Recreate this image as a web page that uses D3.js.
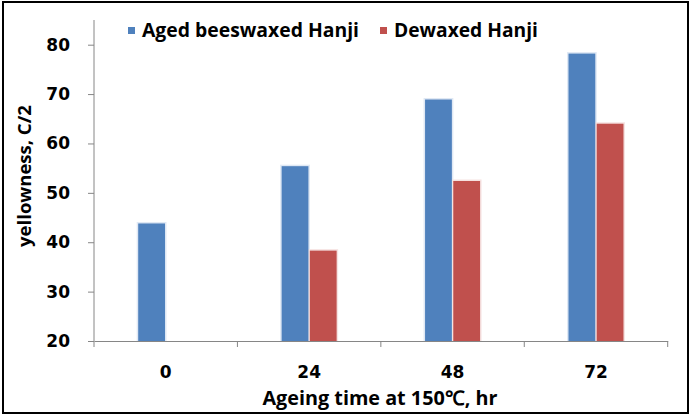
<!DOCTYPE html>
<html>
<head>
<meta charset="utf-8">
<script src="https://cdn.jsdelivr.net/npm/d3@7"></script>
<style>
  html, body { margin: 0; padding: 0; background: #fff; }
  svg { display: block; }
</style>
</head>
<body>
<svg id="chart" width="691" height="417"></svg>
<script>
const categories = ["0", "24", "48", "72"];
const seriesNames = ["Aged beeswaxed Hanji", "Dewaxed Hanji"];
const agedValues = [43.8, 55.4, 68.9, 78.2];
const dewaxedValues = [null, 38.3, 52.4, 64.0];
const yTicks = [20, 30, 40, 50, 60, 70, 80];
const colors = ["#4F81BD", "#C0504D"];
const xTitle = "Ageing time at 150\u2103, hr";
const yTitle = "yellowness, C/2";

const svg = d3.select("#chart");
const W = 691, H = 417;
const plot = { left: 94, right: 667.7, top: 20, bottom: 341 };

function fitWidth(sel, target) {
  const node = sel.node();
  const base = parseFloat(sel.attr("font-size"));
  const w = node.getComputedTextLength();
  if (w > 0) sel.attr("font-size", (base * target / w).toFixed(2));
  return sel;
}

svg.append("rect").attr("x", 0).attr("y", 0).attr("width", W).attr("height", H).attr("fill", "#fff");
svg.append("rect").attr("x", 3).attr("y", 2).attr("width", 685).attr("height", 411)
  .attr("fill", "none").attr("stroke", "#000").attr("stroke-width", 2);

const x = d3.scaleBand().domain(categories).range([plot.left, plot.right]).padding(0);
const y = d3.scaleLinear().domain([20, 85]).range([plot.bottom, plot.top]);
const groupW = 55;
const x1 = d3.scaleBand().domain(seriesNames).range([0, groupW]).paddingInner(0.05);

const seriesValues = [agedValues, dewaxedValues];
const rows = [];
seriesValues.forEach((vals, si) => {
  vals.forEach((v, ci) => {
    if (v != null) rows.push({ cat: categories[ci], series: seriesNames[si], si, v });
  });
});

const barX = d => x(d.cat) + (x.bandwidth() - groupW) / 2 + x1(d.series);

// light glow behind bars
svg.append("g").selectAll("rect").data(rows).join("rect")
  .attr("x", d => barX(d) - 1.5)
  .attr("y", d => y(d.v) - 1.5)
  .attr("width", x1.bandwidth() + 3)
  .attr("height", d => plot.bottom - y(d.v) + 1.5)
  .attr("fill", d => d.si === 0 ? "#dfe8f4" : "#f6e3e2");

svg.append("g").selectAll("rect").data(rows).join("rect")
  .attr("x", d => barX(d))
  .attr("y", d => y(d.v))
  .attr("width", x1.bandwidth())
  .attr("height", d => plot.bottom - y(d.v))
  .attr("fill", d => colors[d.si]);

// Y axis
const yAxis = svg.append("g").attr("transform", `translate(${plot.left},0)`)
  .call(d3.axisLeft(y).tickValues(yTicks).tickSize(6).tickPadding(18).tickFormat(d3.format("d")));
yAxis.select(".domain").attr("stroke", "#868686").attr("d", `M0,${plot.top}V${plot.bottom}`);
yAxis.selectAll(".tick line").attr("stroke", "#868686");
yAxis.selectAll(".tick text").attr("font-family", "DejaVu Sans").attr("font-weight", "bold")
  .attr("font-size", 17).attr("fill", "#000");

// X axis
const xAxis = svg.append("g").attr("transform", `translate(0,${plot.bottom})`)
  .call(d3.axisBottom(x).tickSize(0).tickPadding(25));
xAxis.select(".domain").attr("stroke", "#868686");
xAxis.selectAll(".tick text").attr("font-family", "DejaVu Sans").attr("font-weight", "bold")
  .attr("font-size", 17).attr("fill", "#000");
const bounds = categories.map(c => x(c)).concat([x(categories[categories.length - 1]) + x.bandwidth()]);
xAxis.append("g").selectAll("line").data(bounds).join("line")
  .attr("x1", d => d).attr("x2", d => d).attr("y1", 0).attr("y2", 6)
  .attr("stroke", "#868686");

// Axis titles
const xt = svg.append("text").attr("x", 380).attr("y", 405).attr("text-anchor", "middle")
  .attr("font-family", "'Open Sans'").attr("font-weight", "bold").attr("font-size", 17)
  .attr("fill", "#000").text(xTitle);
fitWidth(xt, 235);
const yt = svg.append("text").attr("transform", "translate(31,176) rotate(-90)").attr("text-anchor", "middle")
  .attr("font-family", "'Open Sans'").attr("font-weight", "bold").attr("font-size", 17)
  .attr("fill", "#000").text(yTitle);
fitWidth(yt, 142);

// Legend
const legendItems = [
  { name: seriesNames[0], sx: 128, tx: 142, w: 217 },
  { name: seriesNames[1], sx: 380, tx: 394, w: 144 }
];
const lg = svg.append("g");
legendItems.forEach((it, i) => {
  lg.append("rect").attr("x", it.sx).attr("y", 27).attr("width", 7).attr("height", 7).attr("fill", colors[i]);
  const t = lg.append("text").attr("x", it.tx).attr("y", 37).attr("font-family", "'Open Sans'").attr("font-weight", "bold")
    .attr("font-size", 18).attr("fill", "#000").text(it.name);
  fitWidth(t, it.w);
});
</script>
</body>
</html>
